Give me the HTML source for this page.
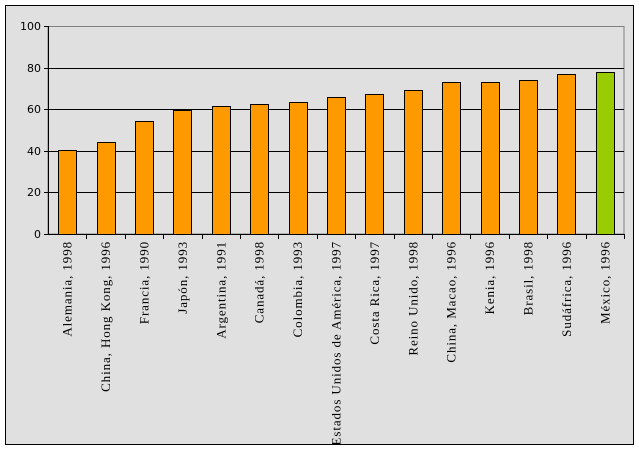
<!DOCTYPE html>
<html><head><meta charset="utf-8"><style>
html,body{margin:0;padding:0;background:#fff;}
svg{display:block;}
</style></head><body>
<svg width="639" height="450" xmlns="http://www.w3.org/2000/svg">
<rect x="5.5" y="5.5" width="628" height="439" fill="#E0E0E0" stroke="#000" stroke-width="1"/>
<rect x="48" y="26.5" width="576" height="207.5" fill="#E0E0E0" stroke="#808080" stroke-width="1"/>
<g stroke="#000" stroke-width="1">
<line x1="48" y1="68.5" x2="624" y2="68.5"/>
<line x1="48" y1="109.5" x2="624" y2="109.5"/>
<line x1="48" y1="151.5" x2="624" y2="151.5"/>
<line x1="48" y1="192.5" x2="624" y2="192.5"/>
</g>
<g id="bars" stroke="#000" stroke-width="1"></g>
<g stroke="#000" stroke-width="1">
<line x1="48.5" y1="26" x2="48.5" y2="234"/>
<line x1="44" y1="234.5" x2="624" y2="234.5"/>
<line x1="44" y1="26.5" x2="48" y2="26.5"/>
<line x1="44" y1="68.5" x2="48" y2="68.5"/>
<line x1="44" y1="109.5" x2="48" y2="109.5"/>
<line x1="44" y1="151.5" x2="48" y2="151.5"/>
<line x1="44" y1="192.5" x2="48" y2="192.5"/>
</g>
<g id="ticks" stroke="#000" stroke-width="1"></g>
<g font-family="'DejaVu Sans','Liberation Sans',sans-serif" font-size="11" text-anchor="end" fill="#000">
<text x="41" y="30">100</text><text x="41" y="72">80</text><text x="41" y="113">60</text>
<text x="41" y="155">40</text><text x="41" y="196">20</text><text x="41" y="238">0</text>
</g>
<g id="labels" font-family="'Liberation Serif',serif" font-size="13" letter-spacing="0.9" text-anchor="end" fill="#000"></g>
<script>
var vals=[40.5,44,54.5,59.5,61.5,62.5,63.5,66,67.5,69,73,73,74,77,78];
var labs=["Alemania, 1998","China, Hong Kong, 1996","Francia, 1990","Japón, 1993","Argentina, 1991","Canadá, 1998","Colombia, 1993","Estados Unidos de América, 1997","Costa Rica, 1997","Reino Unido, 1998","China, Macao, 1996","Kenia, 1996","Brasil, 1998","Sudáfrica, 1996","México, 1996"];
var ns="http://www.w3.org/2000/svg",b=document.getElementById('bars'),t=document.getElementById('ticks'),l=document.getElementById('labels');
for(var i=0;i<15;i++){
 var c=48+38.4*(i+0.5),h=vals[i]*2.08,r=document.createElementNS(ns,'rect');
 r.setAttribute('x',Math.round(c-9)+0.5);r.setAttribute('y',Math.round(234-h)+0.5);
 r.setAttribute('width',18);r.setAttribute('height',Math.round(h));
 r.setAttribute('fill',i==14?'#99CC00':'#FF9900');b.appendChild(r);
 var x=Math.round(48+38.4*(i+1))+0.5,ln=document.createElementNS(ns,'line');
 ln.setAttribute('x1',x);ln.setAttribute('x2',x);ln.setAttribute('y1',234);ln.setAttribute('y2',239);t.appendChild(ln);
 var tx=document.createElementNS(ns,'text');
 tx.setAttribute('transform','translate('+(c+4.5)+',241) rotate(-90)');tx.textContent=labs[i];l.appendChild(tx);
}
</script>
</svg>
</body></html>
